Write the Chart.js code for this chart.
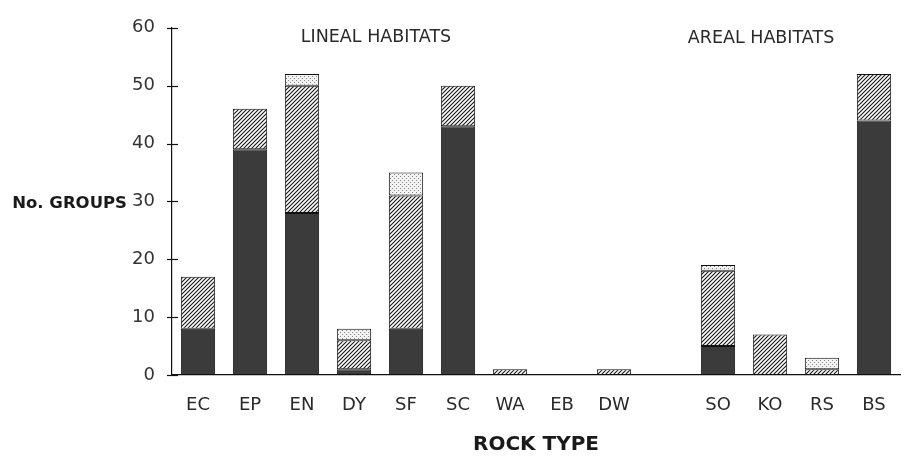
<!DOCTYPE html>
<html>
<head>
<meta charset="utf-8">
<script src="https://cdn.jsdelivr.net/npm/chart.js@4.4.1/dist/chart.umd.min.js"></script>
<style>
  html, body { margin: 0; padding: 0; background: #fff; }
  #wrap { width: 909px; height: 458px; position: relative; }
</style>
</head>
<body>
<div id="wrap"><canvas id="chart"></canvas></div>
<script>
// rock types (empty slot separates lineal and areal habitats)
const categories = ['EC', 'EP', 'EN', 'DY', 'SF', 'SC', 'WA', 'EB', 'DW', '', 'SO', 'KO', 'RS', 'BS'];

// stacked segments (bottom -> top)
const solidPart   = [8, 39, 28, 1, 8, 43, null, null, null, null, 5, null, null, 44];
const hatchedPart = [9, 7, 22, 5, 23, 7, 1, null, 1, null, 13, 7, 1, 8];
const dottedPart  = [null, null, 2, 2, 4, null, null, null, null, null, 1, null, 2, null];

const yTicks = [0, 10, 20, 30, 40, 50, 60];

const FONT = '"DejaVu Sans", sans-serif';

// fill patterns
function makeHatch() {
  const s = 4;
  const c = document.createElement('canvas');
  c.width = s; c.height = s;
  const g = c.getContext('2d');
  g.fillStyle = '#fff';
  g.fillRect(0, 0, s, s);
  g.strokeStyle = '#1e1e1e';
  g.lineWidth = 1.2;
  g.beginPath();
  g.moveTo(-1, s + 1); g.lineTo(s + 1, -1);
  g.moveTo(-1, 1); g.lineTo(1, -1);
  g.moveTo(s - 1, s + 1); g.lineTo(s + 1, s - 1);
  g.stroke();
  return g.createPattern(c, 'repeat');
}

function makeDots() {
  const c = document.createElement('canvas');
  c.width = 4; c.height = 4;
  const g = c.getContext('2d');
  g.fillStyle = '#f2f2f2';
  g.fillRect(0, 0, 4, 4);
  g.fillStyle = '#888';
  g.fillRect(0, 0, 1, 1);
  g.fillRect(2, 2, 1, 1);
  return g.createPattern(c, 'repeat');
}

// crossing tick marks on the y axis + free text labels
const decorations = {
  id: 'decorations',
  afterDraw(chart) {
    const { ctx, chartArea, scales: { x, y } } = chart;
    ctx.save();
    ctx.strokeStyle = '#111';
    ctx.lineWidth = 1.2;
    yTicks.forEach(v => {
      const py = Math.round(y.getPixelForValue(v)) + 0.5;
      ctx.beginPath();
      ctx.moveTo(x.left - 5, py);
      ctx.lineTo(x.left + 6, py);
      ctx.stroke();
    });

    ctx.fillStyle = '#2a2a2a';
    ctx.textBaseline = 'middle';
    ctx.textAlign = 'center';
    ctx.font = '17.5px ' + FONT;
    ctx.fillText('LINEAL HABITATS', 376, 37);
    ctx.fillText('AREAL HABITATS', 761, 38);

    ctx.fillStyle = '#1a1a1a';
    ctx.font = 'bold 20px ' + FONT;
    ctx.fillText('ROCK TYPE', (chartArea.left + chartArea.right) / 2, 445);
    ctx.font = 'bold 16.5px ' + FONT;
    ctx.textAlign = 'right';
    ctx.fillText('No. GROUPS', 127, y.getPixelForValue(30) + 2);
    ctx.restore();
  }
};

const barStyle = {
  borderColor: '#111',
  borderWidth: 1,
  borderSkipped: false,
  barPercentage: 0.66,
  categoryPercentage: 1.0
};

new Chart(document.getElementById('chart'), {
  type: 'bar',
  data: {
    labels: categories,
    datasets: [
      { label: 'solid',   data: solidPart,   backgroundColor: '#3b3b3b', ...barStyle },
      { label: 'hatched', data: hatchedPart, backgroundColor: makeHatch(), ...barStyle },
      { label: 'dotted',  data: dottedPart,  backgroundColor: makeDots(), ...barStyle }
    ]
  },
  options: {
    responsive: true,
    maintainAspectRatio: false,
    animation: false,
    layout: { padding: { top: 15, right: 9, left: 0, bottom: 0 } },
    plugins: {
      legend: { display: false },
      tooltip: { enabled: false }
    },
    scales: {
      x: {
        stacked: true,
        grid: { display: false, drawTicks: false },
        border: { display: true, color: '#111', width: 1.2 },
        ticks: {
          color: '#2a2a2a',
          font: { family: FONT, size: 18 },
          padding: 20,
          maxRotation: 0,
          autoSkip: false
        },
        afterFit(s) { s.height = 83; }
      },
      y: {
        stacked: true,
        min: 0,
        max: 60,
        afterBuildTicks(s) { s.ticks = yTicks.map(v => ({ value: v })); },
        grid: { display: false, drawTicks: false },
        border: { display: true, color: '#111', width: 1.2 },
        ticks: {
          color: '#333',
          font: { family: FONT, size: 18 },
          padding: 17
        },
        afterFit(s) { s.width = 172; }
      }
    }
  },
  plugins: [decorations]
});
</script>
</body>
</html>
